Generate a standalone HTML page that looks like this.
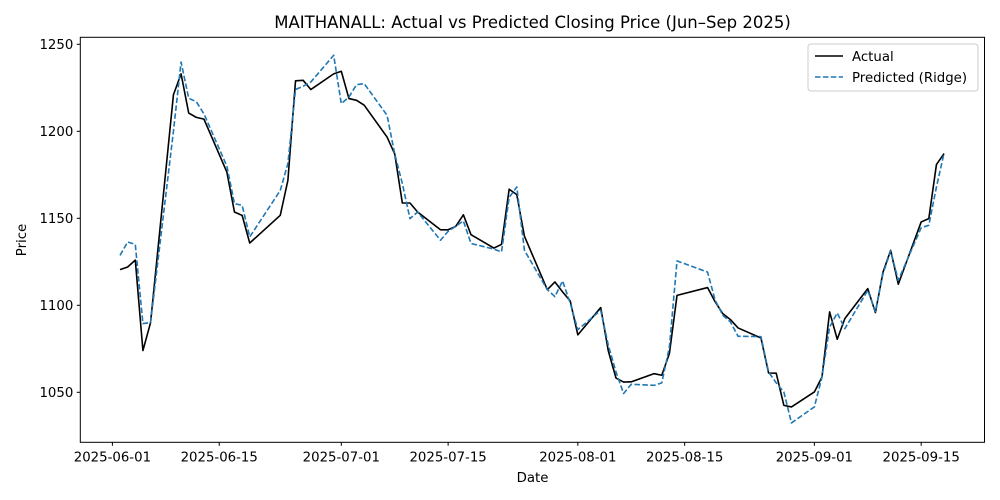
<!DOCTYPE html>
<html><head><meta charset="utf-8"><style>
body{margin:0;background:#fff;}
svg{display:block;font-family:"DejaVu Sans","Liberation Sans",sans-serif;}
</style></head><body>
<svg id="chart" width="1000" height="500"></svg>
<script>
const dates = ["2025-06-02","2025-06-03","2025-06-04","2025-06-05","2025-06-06","2025-06-09","2025-06-10","2025-06-11","2025-06-12","2025-06-13","2025-06-16","2025-06-17","2025-06-18","2025-06-19","2025-06-23","2025-06-24","2025-06-25","2025-06-26","2025-06-27","2025-06-30",
"2025-07-01","2025-07-02","2025-07-03","2025-07-04","2025-07-07","2025-07-08","2025-07-09","2025-07-10","2025-07-11","2025-07-14","2025-07-15","2025-07-16","2025-07-17","2025-07-18","2025-07-21","2025-07-22","2025-07-23","2025-07-24","2025-07-25","2025-07-28","2025-07-29","2025-07-30","2025-07-31",
"2025-08-01","2025-08-04","2025-08-05","2025-08-06","2025-08-07","2025-08-08","2025-08-11","2025-08-12","2025-08-13","2025-08-14","2025-08-18","2025-08-19","2025-08-20","2025-08-21","2025-08-22","2025-08-25","2025-08-26","2025-08-27","2025-08-28","2025-08-29",
"2025-09-01","2025-09-02","2025-09-03","2025-09-04","2025-09-05","2025-09-08","2025-09-09","2025-09-10","2025-09-11","2025-09-12","2025-09-15","2025-09-16","2025-09-17","2025-09-18"];
const actual = [1120.5,1122,1126,1074,1090,1221,1233,1210.5,1208,1207,1176.6,1153.6,1151.7,1135.8,1151.7,1171.8,1229,1229.3,1224,1233,
1234.5,1218.8,1217.8,1215,1196.7,1187,1158.8,1158.8,1153.6,1143.4,1143.4,1145.4,1152,1140.6,1132.9,1135,1166.7,1163.6,1139.7,1109,1113.4,1107.7,1102.5,
1083,1098.7,1073.7,1058.2,1055.9,1056,1060.7,1059.8,1072.2,1105.7,1110.2,1102,1095.2,1091.8,1087,1081.2,1061.1,1061,1042.5,1041.6,
1050.2,1058.8,1096.2,1080.5,1092.4,1109.6,1095.8,1119.1,1131.6,1112.1,1147.9,1149.8,1180.9,1187.2];
const predicted = [1128.7,1136.4,1135,1089.5,1090,1200,1239.8,1219,1217,1210,1180,1158.4,1157.5,1139.3,1166,1181.4,1224,1225.9,1228.3,1243.7,
1215.9,1219.7,1226.8,1227.4,1209.2,1187,1170,1149.8,1153.6,1137.4,1142.5,1145.4,1148.5,1135.5,1132.3,1130.7,1162,1168,1131.6,1109,1105,1114,1101.3,
1086,1097.1,1077,1061.7,1049.3,1054.6,1054,1055.4,1076,1125.5,1119.1,1102.9,1094.3,1090.4,1082.2,1082,1061.7,1055.4,1050.2,1032.4,
1041.6,1058.8,1087.5,1095.6,1086.6,1108.6,1096.4,1118.2,1131.2,1114.4,1144.6,1146,1168,1187.5];
const yTicks = [1050,1100,1150,1200,1250];
const xTicks = ["2025-06-01","2025-06-15","2025-07-01","2025-07-15","2025-08-01","2025-08-15","2025-09-01","2025-09-15"];

const NS="http://www.w3.org/2000/svg";
const svg=document.getElementById('chart');
const L=80.3,R=984.5,T=37.3,B=442.3;
const day0=Date.UTC(2025,5,1);
function dayOf(s){const p=s.split('-');return (Date.UTC(+p[0],+p[1]-1,+p[2])-day0)/86400000;}
function xS(s){return 112.4+dayOf(s)*7.63;}
function yS(v){return 44.3+(1250-v)*(392.3-44.3)/200;}
function mk(tag,attrs,parent){const e=document.createElementNS(NS,tag);for(const k in attrs)e.setAttribute(k,attrs[k]);(parent||svg).appendChild(e);return e;}

// title
let t=mk('text',{x:532.5,y:28,'text-anchor':'middle','font-size':16.5,fill:'#000'});


t.textContent='MAITHANALL: Actual vs Predicted Closing Price (Jun–Sep 2025)';

// lines
function line(vals,stroke,dash,name){
  const d=dates.map((s,i)=>(i?'L':'M')+xS(s).toFixed(2)+','+yS(vals[i]).toFixed(2)).join(' ');
  const p=mk('path',{d:d,fill:'none',stroke:stroke,'stroke-width':1.6,'stroke-dasharray':dash,'stroke-linejoin':'round'});
  
  
}
line(actual,'#000','none','actual-line');
line(predicted,'#1f77b4','5.5,2.4','predicted-line');

// frame
const fr=mk('rect',{x:L,y:T,width:R-L,height:B-T,fill:'none',stroke:'#000','stroke-width':1});



// y ticks
yTicks.forEach(v=>{
  const y=yS(v);
  const tk=mk('line',{x1:L-3.5,x2:L,y1:y,y2:y,stroke:'#000','stroke-width':1});
  
  
  const lb=mk('text',{x:L-7,y:y+4.8,'text-anchor':'end','font-size':13.3,fill:'#000'});
  
  
  lb.textContent=v;
});
// x ticks
xTicks.forEach(s=>{
  const x=xS(s);
  const tk=mk('line',{x1:x,x2:x,y1:B,y2:B+3.5,stroke:'#000','stroke-width':1});
  
  
  const lb=mk('text',{x:x,y:B+19,'text-anchor':'middle','font-size':13.3,fill:'#000'});
  
  
  lb.textContent=s;
});
// axis titles
let xt=mk('text',{x:532.5,y:482,'text-anchor':'middle','font-size':13.3,fill:'#000'});


xt.textContent='Date';
let yt=mk('text',{x:26,y:240,'text-anchor':'middle','font-size':13.3,fill:'#000',transform:'rotate(-90 26 240)'});


yt.textContent='Price';

// legend
const lg=mk('g',{});


mk('rect',{x:808,y:44,width:170,height:47,rx:3,fill:'#fff',stroke:'#ccc','stroke-width':1},lg);
const e1=mk('g',{},lg);


mk('line',{x1:815,x2:843,y1:56,y2:56,stroke:'#000','stroke-width':1.6},e1);
const l1=mk('text',{x:852,y:61,'font-size':13.3,fill:'#000'},e1);l1.textContent='Actual';
const e2=mk('g',{},lg);


mk('line',{x1:815,x2:843,y1:77,y2:77,stroke:'#1f77b4','stroke-width':1.6,'stroke-dasharray':'5.5,2.4'},e2);
const l2=mk('text',{x:852,y:82,'font-size':13.3,fill:'#000'},e2);l2.textContent='Predicted (Ridge)';
</script>
</body></html>
